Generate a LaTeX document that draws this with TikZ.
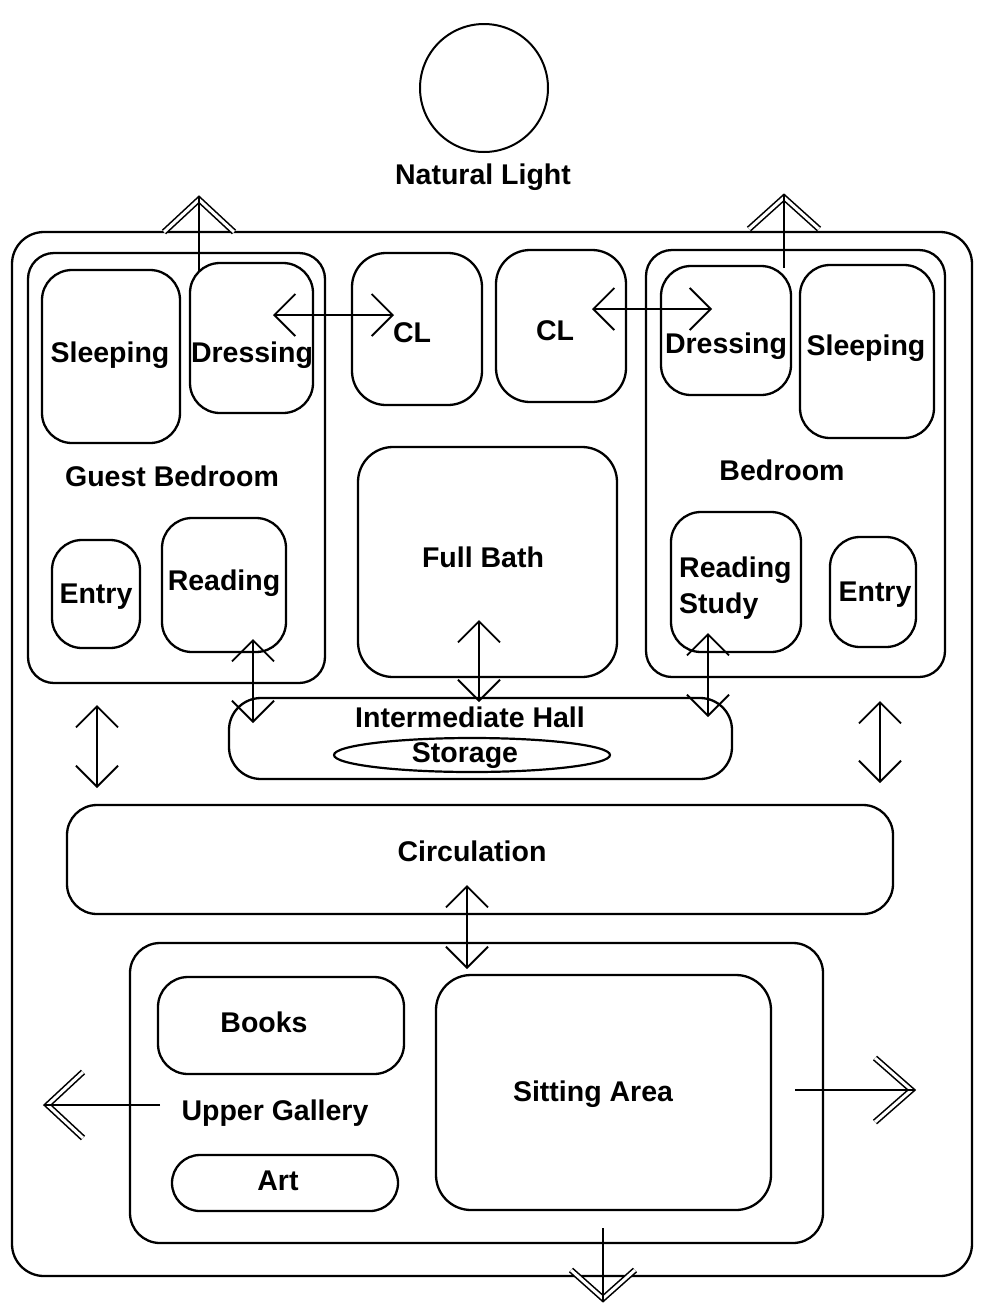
\documentclass[tikz,border=0pt]{standalone}
\usepackage{fontspec}
\setmainfont{Liberation Sans}
\usetikzlibrary{arrows.meta,shapes.geometric}
\begin{document}
\begin{tikzpicture}[x=1pt,y=-1pt,
  room/.style={draw, rectangle, line width=2.3pt, rounded corners=#1, inner sep=0pt},
  room/.default=30pt,
  lbl/.style={font=\bfseries\fontsize{28.5}{31}\selectfont, inner sep=0pt, text height=20.5pt, text depth=0pt},
  link/.style={line width=1.9pt,
    {Straight Barb[length=21pt,width=42pt]}-{Straight Barb[length=21pt,width=42pt]}},
  shaft/.style={line width=1.8pt},
  dbl/.style={double, double distance=3pt, line width=1.6pt, line join=miter}]

\useasboundingbox[fill=white] (0,0) rectangle (982,1307);

% light source
\node[draw, circle, line width=2pt, minimum size=128pt, inner sep=0pt] (sun) at (484,88) {};
\node[lbl] (sun-t) at (483,174) {Natural Light};

% building outline
\node[room=32pt, minimum width=960pt, minimum height=1044pt] (outer) at (492,754) {};

% guest bedroom suite
\node[room=26pt, minimum width=297pt, minimum height=430pt] (guest) at (176.5,468) {};
\node[room, minimum width=138pt, minimum height=173pt] (sleep1) at (111,356.5) {};
\node[room, minimum width=123pt, minimum height=150pt] (dress1) at (251.5,338) {};
\node[room, minimum width=88pt, minimum height=108pt] (entry1) at (96,594) {};
\node[room, minimum width=124pt, minimum height=134pt] (read1) at (224,585) {};
\node[lbl] (sleep1-t) at (110,352) {Sleeping};
\node[lbl] (dress1-t) at (252,352) {Dressing};
\node[lbl] (guest-t) at (172,476) {Guest Bedroom};
\node[lbl] (entry1-t) at (96,593) {Entry};
\node[lbl] (read1-t) at (224,580) {Reading};

% closets and bath
\node[room=34pt, minimum width=130pt, minimum height=152pt] (cl1) at (417,329) {};
\node[room=34pt, minimum width=130pt, minimum height=152pt] (cl2) at (561,326) {};
\node[room=35pt, minimum width=259pt, minimum height=230pt] (bath) at (487.5,562) {};
\node[lbl] (cl1-t) at (412,332) {CL};
\node[lbl] (cl2-t) at (555,330) {CL};
\node[lbl] (bath-t) at (483,557) {Full Bath};

% main bedroom suite
\node[room=26pt, minimum width=299pt, minimum height=427pt] (bed) at (795.5,463.5) {};
\node[room, minimum width=130pt, minimum height=129pt] (dress2) at (726,330.5) {};
\node[room, minimum width=134pt, minimum height=173pt] (sleep2) at (867,351.5) {};
\node[room, minimum width=130pt, minimum height=140pt] (study) at (736,582) {};
\node[room, minimum width=86pt, minimum height=110pt] (entry2) at (873,592) {};
\node[lbl] (dress2-t) at (726,343) {Dressing};
\node[lbl] (sleep2-t) at (866,345) {Sleeping};
\node[lbl] (bed-t) at (782,470) {Bedroom};
\node[lbl, anchor=west] (study-t1) at (679,567) {Reading};
\node[lbl, anchor=west] (study-t2) at (679,603) {Study};
\node[lbl] (entry2-t) at (875,591) {Entry};

% hall and circulation
\node[room=32pt, minimum width=503pt, minimum height=81pt] (hall) at (480.5,738.5) {};
\node[lbl] (hall-t) at (470,717) {Intermediate Hall};
\node[draw, ellipse, line width=2.2pt, minimum width=276pt, minimum height=34pt, inner sep=0pt] (store) at (472,755) {};
\node[lbl] (store-t) at (465,752) {Storage};
\node[room, minimum width=826pt, minimum height=109pt] (circ) at (480,859.5) {};
\node[lbl] (circ-t) at (472,851) {Circulation};

% upper gallery
\node[room, minimum width=693pt, minimum height=300pt] (gal) at (476.5,1093) {};
\node[room, minimum width=246pt, minimum height=97pt] (books) at (281,1025.5) {};
\node[room=35pt, minimum width=335pt, minimum height=235pt] (sit) at (603.5,1092.5) {};
\node[room=28pt, minimum width=226pt, minimum height=56pt] (art) at (285,1183) {};
\node[lbl] (books-t) at (264,1022) {Books};
\node[lbl] (sit-t) at (593,1091) {Sitting Area};
\node[lbl] (gal-t) at (275,1110) {Upper Gallery};
\node[lbl] (art-t) at (278,1180) {Art};

% internal links
\coordinate (d1-in) at (273,315);
\coordinate (cl1-in) at (394,315);
\draw[link] (d1-in) -- (cl1-in);
\coordinate (cl2-in) at (592,309);
\coordinate (d2-in) at (712,309);
\draw[link] (cl2-in) -- (d2-in);

\coordinate (read1-in) at (253,639);
\coordinate (hall-l) at (253,723);
\draw[link] (read1-in) -- (hall-l);
\coordinate (bath-in) at (479,620);
\coordinate (hall-c) at (479,702);
\draw[link] (bath-in) -- (hall-c);
\coordinate (study-in) at (708,633);
\coordinate (hall-r) at (708,717);
\draw[link] (study-in) -- (hall-r);

\coordinate (guest-s) at (97,705);
\coordinate (circ-l) at (97,788);
\draw[link] (guest-s) -- (circ-l);
\coordinate (bed-s) at (880,701);
\coordinate (circ-r) at (880,783);
\draw[link] (bed-s) -- (circ-r);

\coordinate (circ-s) at (467,885);
\coordinate (gal-n) at (467,969);
\draw[link] (circ-s) -- (gal-n);

% openings to the outside
\coordinate (d1-top) at (199,271);
\coordinate (out-nl) at (199,195);
\draw[dbl] ([shift={(-35,37)}]out-nl) -- ([shift={(0,4.5)}]out-nl) -- ([shift={(35,37)}]out-nl);
\draw[shaft] (d1-top) -- ([shift={(0,1)}]out-nl);

\coordinate (d2-top) at (784,268);
\coordinate (out-nr) at (784,193);
\draw[dbl] ([shift={(-35,36)}]out-nr) -- ([shift={(0,4.5)}]out-nr) -- ([shift={(35,36)}]out-nr);
\draw[shaft] (d2-top) -- ([shift={(0,1)}]out-nr);

\coordinate (gal-w) at (160,1105);
\coordinate (out-w) at (43,1105);
\draw[dbl] ([shift={(40,-33)}]out-w) -- ([shift={(4.5,0)}]out-w) -- ([shift={(40,33)}]out-w);
\draw[shaft] (gal-w) -- ([shift={(1,0)}]out-w);

\coordinate (sit-e) at (795,1090);
\coordinate (out-e) at (916,1090);
\draw[dbl] ([shift={(-41,-32)}]out-e) -- ([shift={(-4.5,0)}]out-e) -- ([shift={(-41,32)}]out-e);
\draw[shaft] (sit-e) -- ([shift={(-1,0)}]out-e);

\coordinate (gal-s) at (603,1228);
\coordinate (out-s) at (603,1303);
\draw[dbl] ([shift={(-32,-33)}]out-s) -- ([shift={(0,-4.5)}]out-s) -- ([shift={(32,-33)}]out-s);
\draw[shaft] (gal-s) -- ([shift={(0,-2)}]out-s);
\end{tikzpicture}
\end{document}
